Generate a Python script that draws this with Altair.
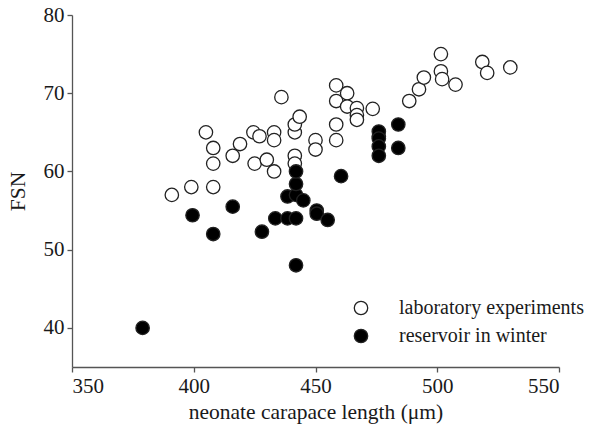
import altair as alt
import pandas as pd

lab_x = [391, 399, 408, 408, 408, 405, 416, 419, 424.5, 427, 425, 430, 433, 433, 433,
         436, 441.5, 441.5, 441.5, 441.5, 443.5, 450, 450, 458.5, 458.5, 458.5, 458.5,
         463, 463, 467, 467, 467, 473.5, 476, 488.5, 492.5, 494.5, 501.5, 501.5, 502,
         507.5, 518.5, 520.5, 530]
lab_y = [57, 58, 58, 61, 63, 65, 62, 63.5, 65, 64.5, 61, 61.5, 65, 64, 60,
         69.5, 62, 61, 65, 66, 67, 64, 62.8, 71, 69, 66, 64,
         70, 68.3, 68.1, 67.2, 66.6, 68, 64.5, 69, 70.5, 72, 75, 72.8, 71.8,
         71.1, 74, 72.6, 73.3]

res_x = [379, 399.5, 408, 416, 428, 433.5, 438.5, 442, 438.5, 442, 445, 442, 442, 442,
         450.5, 450.5, 455, 460.5, 476, 476, 476, 476, 484, 484]
res_y = [40, 54.4, 52, 55.5, 52.3, 54, 54, 54, 56.8, 57, 56.3, 58.4, 60, 48,
         55, 54.6, 53.8, 59.4, 65.1, 64.2, 63.2, 62, 66, 63]

groups = ["laboratory experiments", "reservoir in winter"]
x_ticks = [350, 400, 450, 500, 550]
y_ticks = [40, 50, 60, 70, 80]

df = pd.concat([
    pd.DataFrame({"x": lab_x, "y": lab_y, "group": groups[0]}),
    pd.DataFrame({"x": res_x, "y": res_y, "group": groups[1]}),
], ignore_index=True)

font = "Liberation Serif"

chart = alt.Chart(df).mark_point(
    shape="circle", size=180, strokeWidth=1.3, opacity=1
).encode(
    x=alt.X("x:Q", scale=alt.Scale(domain=[350, 550], nice=False, zero=False),
            axis=alt.Axis(values=x_ticks, title="neonate carapace length (μm)", grid=False)),
    y=alt.Y("y:Q", scale=alt.Scale(domain=[35, 80], nice=False, zero=False),
            axis=alt.Axis(values=y_ticks, title="FSN", grid=False)),
    fill=alt.Fill("group:N", scale=alt.Scale(domain=groups, range=["white", "black"]),
                  legend=alt.Legend(title=None, orient="none", legendX=279, legendY=283,
                                    symbolType="circle", symbolSize=180,
                                    symbolStrokeColor="#222", symbolStrokeWidth=1.3,
                                    labelFont=font, labelFontSize=20, labelColor="#1a1a1a",
                                    labelLimit=400,
                                    labelOffset=28, rowPadding=8, padding=0)),
    stroke=alt.value("#222"),
    order=alt.Order("group:N"),
).properties(
    width=487, height=352,
    autosize=alt.AutoSizeParams(type="none"),
    padding={"left": 72, "top": 15, "right": 36, "bottom": 65},
).configure_view(stroke=None).configure_axis(
    domainColor="#555", tickColor="#555", tickSize=5, domainWidth=1.3, tickWidth=1.3,
    labelFont=font, labelFontSize=21, labelColor="#1a1a1a",
    titleFont=font, titleFontSize=21.5, titleFontWeight="normal", titleColor="#1a1a1a",
    labelPadding=3,
).configure_axisY(titlePadding=14).configure_axisX(titlePadding=5)

chart.save("out.html", embed_options={"renderer": "svg", "actions": False})
